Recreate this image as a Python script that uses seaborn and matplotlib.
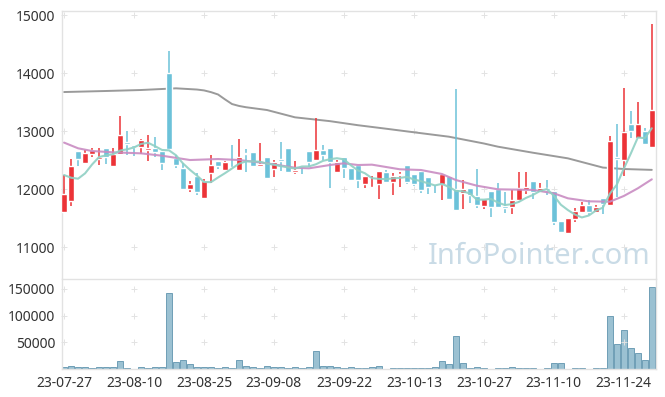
import numpy as np
import pandas as pd
import matplotlib
matplotlib.use("Agg")
import matplotlib.pyplot as plt
import seaborn as sns

# daily OHLC (85 trading days)
opens = [11609, 11798, 12655, 12453, 12603, 12522, 12707, 12402, 12609, 12816,
         12759, 12729, 12678, 12707, 12655, 14000, 12529, 12362, 12005, 12224,
         11850, 12281, 12478, 12333, 12384, 12333, 12621, 12638, 12402, 12552,
         12350, 12517, 12707, 12293, 12395, 12655, 12505, 12672, 12707, 12298,
         12552, 12357, 12414, 12092, 12010, 12092, 12288, 12126, 12248, 12414,
         12259, 12310, 12207, 12098, 12086, 12224, 11995, 11926, 12023, 11874,
         11712, 11966, 12000, 11707, 11684, 11810, 11983, 12133, 11948, 12023,
         11966, 11448, 11236, 11488, 11603, 11724, 11603, 11845, 11729, 12557,
         12500, 13121, 12874, 13000, 12729]
highs = [12241, 12512, 12655, 12672, 12707, 12702, 12707, 12702, 13259, 13000,
         12759, 12867, 12931, 12902, 12655, 14379, 12586, 12443, 12133, 12271,
         12167, 12586, 12478, 12483, 12753, 12857, 12684, 12638, 12787, 12552,
         12495, 12805, 12707, 12483, 12402, 12655, 13219, 12753, 12707, 12500,
         12552, 12357, 12414, 12224, 12224, 12305, 12328, 12271, 12288, 12414,
         12259, 12310, 12207, 12098, 12259, 12224, 13719, 12150, 12023, 12340,
         11822, 11966, 12110, 11953, 11983, 12288, 12288, 12133, 12098, 12150,
         11966, 11448, 11495, 11667, 11771, 11805, 11724, 11845, 12914, 13121,
         13736, 13340, 13495, 13052, 14845]
lows = [11609, 11712, 12397, 12453, 12557, 12410, 12426, 12402, 12609, 12586,
        12569, 12598, 12478, 12557, 12322, 12690, 12357, 12005, 11953, 11897,
        11850, 12098, 12340, 12333, 12357, 12333, 12298, 12402, 12402, 12180,
        12202, 12316, 12271, 12254, 12254, 12384, 12505, 12500, 12012, 12298,
        12195, 12150, 12012, 12012, 12005, 11822, 12126, 11897, 12029, 12086,
        12060, 11936, 11909, 11936, 11805, 11822, 11638, 11650, 11759, 11667,
        11650, 11512, 11695, 11581, 11574, 11776, 11909, 11833, 11926, 11897,
        11379, 11264, 11236, 11426, 11581, 11552, 11586, 11574, 11729, 11867,
        12224, 12874, 12874, 12776, 12729]
closes = [11914, 12397, 12517, 12616, 12672, 12557, 12547, 12609, 12931, 12776,
          12724, 12845, 12712, 12638, 12448, 12690, 12419, 12005, 12086, 11953,
          12138, 12414, 12402, 12460, 12357, 12552, 12609, 12402, 12431, 12195,
          12460, 12483, 12298, 12328, 12375, 12466, 12667, 12591, 12471, 12460,
          12367, 12150, 12155, 12224, 12040, 12305, 12126, 12224, 12265, 12126,
          12081, 11983, 12040, 12081, 12259, 11822, 11638, 12000, 11897, 11729,
          11822, 11695, 11695, 11678, 11805, 12017, 12034, 11953, 12012, 11983,
          11436, 11264, 11495, 11626, 11729, 11603, 11690, 11741, 12828, 12512,
          12983, 12995, 13121, 12776, 13362]
volumes = [4000, 6000, 4000, 4000, 2000, 4000, 4000, 4000, 15000, 2000,
           500, 4000, 2000, 4000, 4000, 142000, 12600, 16300, 8800, 4000,
           4000, 4000, 2000, 4000, 2000, 16300, 6000, 4000, 2000, 6000,
           4000, 4000, 2000, 4000, 2000, 4000, 33100, 6000, 6000, 4000,
           2000, 4000, 2000, 2000, 4000, 6000, 300, 2000, 2000, 2000,
           2000, 2000, 2000, 4000, 15000, 8800, 61300, 10600, 2000, 4000,
           2000, 300, 2000, 2000, 4000, 2000, 2000, 2000, 300, 2000,
           10600, 10600, 300, 2000, 2000, 300, 2000, 2000, 98800, 46300,
           72500, 38800, 29400, 16900, 153100]

# 5-day line: first four values, rest from closes
ma5_head = [12241, 12195, 12178, 12270]
# 20-day and long moving averages read at a few days
ma20_days = [0, 2, 4, 7, 11, 14, 18, 22, 25, 29, 33, 35, 38, 40, 42, 44, 48, 51,
             54, 56, 59, 62, 67, 70, 72, 75, 78, 80, 82, 84]
ma20_vals = [12800, 12702, 12655, 12633, 12615, 12574, 12500, 12517, 12500, 12443,
             12367, 12357, 12414, 12443, 12414, 12420, 12340, 12328, 12259, 12155,
             12057, 11995, 11985, 11926, 11840, 11788, 11781, 11880, 12012, 12167]
ma_long_days = [0, 6, 11, 16, 19, 20, 21, 22, 23, 24, 25, 26, 29, 33, 38, 42, 46,
                50, 55, 60, 62, 67, 72, 77, 80, 84]
ma_long_vals = [13672, 13690, 13707, 13736, 13715, 13700, 13670, 13630, 13545, 13465,
                13432, 13410, 13362, 13236, 13170, 13100, 13040, 12978, 12902, 12785,
                12730, 12626, 12529, 12370, 12345, 12330]

tick_labels = ["23-07-27", "23-08-10", "23-08-25", "23-09-08", "23-09-22",
               "23-10-13", "23-10-27", "23-11-10", "23-11-24"]

df = pd.DataFrame({"open": opens, "high": highs, "low": lows,
                   "close": closes, "volume": volumes})
df["day"] = np.arange(len(df))
ma5 = df["close"].rolling(5).mean()
ma5.iloc[:4] = ma5_head
df["ma5"] = ma5

sns.set_style("white")
plt.rcParams["font.family"] = ["Noto Sans", "DejaVu Sans"]

W, H = 665, 397
fig = plt.figure(figsize=(W / 100, H / 100), dpi=100)
ax1 = fig.add_axes([62 / W, 1 - 278 / H, 594 / W, 267 / H])
ax2 = fig.add_axes([62 / W, 1 - 369 / H, 594 / W, 90 / H])

red, blue = "#ec3337", "#6cc2d9"
up = df["close"] >= df["open"]
cols = np.where(up, red, blue)

# wicks and bodies
ax1.vlines(df["day"], df["low"], df["high"], colors=cols, lw=1.1, zorder=3)
body = (df["close"] - df["open"]).abs().clip(lower=12)
ax1.bar(df["day"], body, bottom=df[["open", "close"]].min(axis=1),
        width=0.8, color=cols, zorder=4)

sns.lineplot(x=ma_long_days, y=ma_long_vals, ax=ax1, color="#9a9a9a", lw=1.4, zorder=2)
sns.lineplot(x=ma20_days, y=ma20_vals, ax=ax1, color="#c98cc2", lw=1.5, alpha=0.9, zorder=5)
sns.lineplot(data=df, x="day", y="ma5", ax=ax1, color="#8fd0c4", lw=1.5, alpha=0.9, zorder=5)

ax1.set_xlim(-0.3, 84.6)
ax1.set_ylim(10466, 15069)
ax1.set_yticks([11000, 12000, 13000, 14000, 15000])

sns.barplot(data=df, x="day", y="volume", native_scale=True, ax=ax2,
            color="#9bc1d2", edgecolor="#6f9fb6", linewidth=0.7,
            saturation=1, width=0.9)
ax2.set_xlim(-0.3, 84.6)
ax2.set_ylim(0, 168750)
ax2.set_yticks([50000, 100000, 150000])
ax2.set_xticks(range(0, 81, 10))
ax2.set_xticklabels(tick_labels)

# little "+" grid marks at tick crossings
for ax in (ax1, ax2):
    gx, gy = np.meshgrid(ax2.get_xticks(), ax.get_yticks())
    ax.scatter(gx.ravel(), gy.ravel(), marker="+", s=16, lw=0.7,
               color="#e3e3e3", zorder=1, clip_on=False)
    ax.set_xlabel("")
    ax.set_ylabel("")
    for s in ax.spines.values():
        s.set_color("#e2e2e2")
        s.set_linewidth(1)
    ax.tick_params(length=0, labelsize=10, labelcolor="#333333", pad=5)

ax1.spines["bottom"].set_visible(False)
ax1.set_xticks([])
ax1.set_xticklabels([])

fig.text(539 / W, 1 - 256 / H, "InfoPointer.com", ha="center", va="center",
         fontsize=21, color="#c9dbe6", zorder=0)

fig.savefig("out.png", dpi=100)
